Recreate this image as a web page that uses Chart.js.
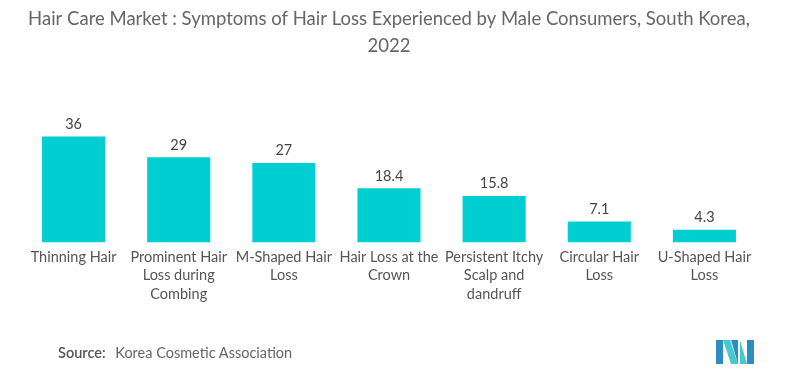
<!DOCTYPE html>
<html><head><meta charset="utf-8">
<script src="https://cdn.jsdelivr.net/npm/chart.js@4/dist/chart.umd.min.js"></script>
<style>
html,body{margin:0;padding:0;background:#fff;}
#wrap{position:relative;width:794px;height:379px;}
#c{position:absolute;left:0;top:0;}
#src{position:absolute;left:58px;top:344px;font-family:Lato,"Open Sans",sans-serif;font-size:14.5px;color:#666;}
#src b{font-weight:600;color:#555;margin-right:6px;}
#logo{position:absolute;left:716px;top:340px;}
</style></head>
<body>
<div id="wrap">
<canvas id="c" width="794" height="379"></canvas>
<div id="src"><b>Source:</b> Korea Cosmetic Association</div>
<svg id="logo" width="38" height="24" viewBox="0 0 38 24">
<polygon points="0,0 7,0 7,24 0,24" fill="#2a8fbf"/>
<polygon points="7,0 14,0 22,24 15,24" fill="#46c8d0"/>
<polygon points="15,0 22,0 22,24" fill="#2a8fbf"/>
<polygon points="24,0 31,24 24,24" fill="#46c8d0"/>
<polygon points="31,0 38,0 38,24 31,24" fill="#2a8fbf"/>
</svg>
</div>
<script>
const categories = [
  ["Thinning Hair"],
  ["Prominent Hair","Loss during","Combing"],
  ["M-Shaped Hair","Loss"],
  ["Hair Loss at the","Crown"],
  ["Persistent Itchy","Scalp and","dandruff"],
  ["Circular Hair","Loss"],
  ["U-Shaped Hair","Loss"]
];
const values = [36, 29, 27, 18.4, 15.8, 7.1, 4.3];
const valueLabels = ["36","29","27","18.4","15.8","7.1","4.3"];
const titleLines = ["Hair Care Market : Symptoms of Hair Loss Experienced by Male Consumers, South Korea,","2022"];

const FONT = 'Lato, "Open Sans", sans-serif';

const valueLabelPlugin = {
  id: 'valueLabels',
  afterDatasetsDraw(chart) {
    const ctx = chart.ctx;
    const meta = chart.getDatasetMeta(0);
    ctx.save();
    ctx.font = '14.5px ' + FONT;
    ctx.fillStyle = '#444';
    ctx.textAlign = 'center';
    ctx.textBaseline = 'bottom';
    meta.data.forEach((bar, i) => {
      ctx.fillText(valueLabels[i], bar.x, bar.y - 5);
    });
    ctx.restore();
  }
};

new Chart(document.getElementById('c'), {
  type: 'bar',
  data: {
    labels: categories,
    datasets: [{
      data: values,
      backgroundColor: '#00ced1',
      barPercentage: 0.6,
      categoryPercentage: 1.0
    }]
  },
  options: {
    responsive: false,
    animation: false,
    devicePixelRatio: 1,
    layout: { padding: { left: 21, right: 37, top: 0, bottom: 70 } },
    plugins: {
      legend: { display: false },
      tooltip: { enabled: false },
      title: {
        display: true,
        text: titleLines,
        color: '#666',
        font: { family: FONT, size: 18.5, weight: 'normal', lineHeight: 1.45 },
        padding: { top: 6, bottom: 64 }
      }
    },
    scales: {
      x: {
        grid: { display: false, drawTicks: false },
        border: { display: false },
        ticks: {
          color: '#555',
          font: { family: FONT, size: 14.5, lineHeight: 1.3 },
          maxRotation: 0,
          autoSkip: false,
          padding: 5
        }
      },
      y: {
        display: false,
        min: 0,
        max: 40.4
      }
    }
  },
  plugins: [valueLabelPlugin]
});
</script>
</body></html>
